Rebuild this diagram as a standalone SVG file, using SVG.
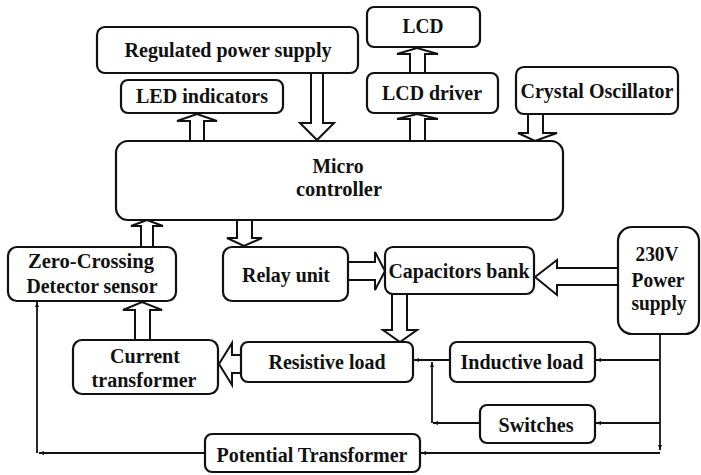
<svg xmlns="http://www.w3.org/2000/svg" width="701" height="475" viewBox="0 0 701 475">
<defs>
<marker id="ah" viewBox="0 0 10 10" refX="10" refY="5" markerWidth="5" markerHeight="5" orient="auto" markerUnits="userSpaceOnUse">
<path d="M0,1 L10,5 L0,9 Z" fill="#111"/>
</marker>
<style>
.box{fill:#fff;stroke:#111;stroke-width:2.2}
.t{font-family:"Liberation Serif","Times New Roman",serif;font-weight:bold;font-size:20px;fill:#111;text-anchor:middle}
.ha{fill:#fff;stroke:#111;stroke-width:2;stroke-linejoin:miter}
.ln{fill:none;stroke:#111;stroke-width:1.8;marker-end:url(#ah)}
</style>
</defs>
<rect width="701" height="475" fill="#fff"/>

<g id="connectors">
<path class="ha" d="M190,141 V121 H177 L197,114 L217,121 H204 V141"/>
<path class="ha" d="M311,73 V123 H300 L317,140 L334,123 H323 V73"/>
<path class="ha" d="M410,73 V54 H397 L417,48 L438,54 H425 V73"/>
<path class="ha" d="M410,141 V119 H397 L417,114 L438,119 H425 V141"/>
<path class="ha" d="M528,114 V133 H518 L535,141 L557,133 H543 V114"/>
<path class="ha" d="M141,247 V226 H131 L147,220 L163,226 H153 V247"/>
<path class="ha" d="M237,220 V238 H227 L244,246 L262,238 H252 V220"/>
<path class="ha" d="M348,262 H375 V252 L385,271 L375,290 V280 H348"/>
<path class="ha" d="M618,268 H557 V260 L535,277 L557,295 V285 H618"/>
<path class="ha" d="M392,294 V330 H383 L400,342 L417,330 H407 V294"/>
<path class="ha" d="M241,355 H232 V343 L219,364 L232,385 V373 H241"/>
<path class="ha" d="M135,340 V310 H123 L142,302 L162,310 H150 V340"/>

<path class="ln" d="M660,334 V450"/>
<path class="ln" d="M660,453 H421"/>
<path class="ln" d="M660,360 H596"/>
<path class="ln" d="M660,423 H596"/>
<path class="ln" d="M450,360 H414"/>
<path class="ln" d="M480,423 H433"/>
<path class="ln" d="M432,423 V362"/>
<path class="ln" d="M205,453 H39"/>
<path class="ln" d="M37,453 V302"/>
</g>

<g id="regulated-power-supply">
<rect class="box" x="97" y="27" width="261" height="46" rx="8"/>
<text class="t" x="228" y="57" textLength="207" lengthAdjust="spacingAndGlyphs">Regulated power supply</text>
</g>
<g id="led-indicators">
<rect class="box" x="121" y="80" width="162" height="33" rx="7"/>
<text class="t" x="202" y="103" textLength="132" lengthAdjust="spacingAndGlyphs">LED indicators</text>
</g>
<g id="lcd">
<rect class="box" x="367" y="7" width="113" height="40" rx="7"/>
<text class="t" x="423" y="33" textLength="41" lengthAdjust="spacingAndGlyphs">LCD</text>
</g>
<g id="lcd-driver">
<rect class="box" x="367" y="73" width="131" height="40" rx="7"/>
<text class="t" x="432" y="100" textLength="100" lengthAdjust="spacingAndGlyphs">LCD driver</text>
</g>
<g id="crystal-oscillator">
<rect class="box" x="516" y="67" width="162" height="47" rx="8"/>
<text class="t" x="597" y="98" textLength="153" lengthAdjust="spacingAndGlyphs">Crystal Oscillator</text>
</g>
<g id="microcontroller">
<rect class="box" x="116" y="141" width="447" height="79" rx="12"/>
<text class="t" x="338" y="173" textLength="51" lengthAdjust="spacingAndGlyphs">Micro</text>
<text class="t" x="339" y="196" textLength="86" lengthAdjust="spacingAndGlyphs">controller</text>
</g>
<g id="zero-crossing">
<rect class="box" x="8" y="247" width="168" height="54" rx="9"/>
<text class="t" x="91" y="268" textLength="126" lengthAdjust="spacingAndGlyphs">Zero-Crossing</text>
<text class="t" x="92" y="293" textLength="131" lengthAdjust="spacingAndGlyphs">Detector sensor</text>
</g>
<g id="relay-unit">
<rect class="box" x="223" y="247" width="125" height="54" rx="9"/>
<text class="t" x="286" y="282" textLength="88" lengthAdjust="spacingAndGlyphs">Relay unit</text>
</g>
<g id="capacitors-bank">
<rect class="box" x="385" y="247" width="149" height="47" rx="8"/>
<text class="t" x="459" y="278" textLength="141" lengthAdjust="spacingAndGlyphs">Capacitors bank</text>
</g>
<g id="power-supply-230v">
<rect class="box" x="618" y="227" width="81" height="107" rx="14"/>
<text class="t" x="657" y="261" textLength="43" lengthAdjust="spacingAndGlyphs">230V</text>
<text class="t" x="658" y="287" textLength="53" lengthAdjust="spacingAndGlyphs">Power</text>
<text class="t" x="659" y="310" textLength="55" lengthAdjust="spacingAndGlyphs">supply</text>
</g>
<g id="current-transformer">
<rect class="box" x="73" y="340" width="145" height="54" rx="9"/>
<text class="t" x="145" y="363" textLength="70" lengthAdjust="spacingAndGlyphs">Current</text>
<text class="t" x="144" y="387" textLength="105" lengthAdjust="spacingAndGlyphs">transformer</text>
</g>
<g id="resistive-load">
<rect class="box" x="241" y="342" width="172" height="40" rx="7"/>
<text class="t" x="327" y="369" textLength="117" lengthAdjust="spacingAndGlyphs">Resistive load</text>
</g>
<g id="inductive-load">
<rect class="box" x="450" y="342" width="145" height="40" rx="7"/>
<text class="t" x="522" y="369" textLength="123" lengthAdjust="spacingAndGlyphs">Inductive load</text>
</g>
<g id="switches">
<rect class="box" x="480" y="405" width="115" height="38" rx="7"/>
<text class="t" x="536" y="432" textLength="75" lengthAdjust="spacingAndGlyphs">Switches</text>
</g>
<g id="potential-transformer">
<rect class="box" x="205" y="434" width="215" height="38" rx="7"/>
<text class="t" x="312" y="462" textLength="191" lengthAdjust="spacingAndGlyphs">Potential Transformer</text>
</g>
</svg>
